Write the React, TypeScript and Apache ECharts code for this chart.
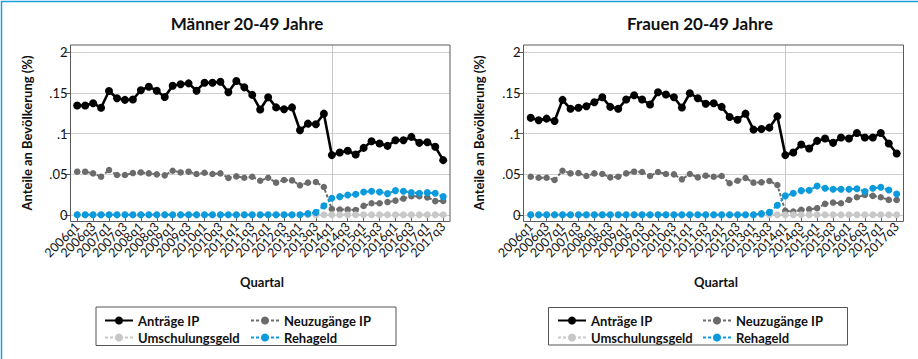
import React, { useEffect, useRef } from "react";
import * as echarts from "echarts";

const quarters = [
  "2006q1", "2006q2", "2006q3", "2006q4", "2007q1", "2007q2", "2007q3", "2007q4",
  "2008q1", "2008q2", "2008q3", "2008q4", "2009q1", "2009q2", "2009q3", "2009q4",
  "2010q1", "2010q2", "2010q3", "2010q4", "2011q1", "2011q2", "2011q3", "2011q4",
  "2012q1", "2012q2", "2012q3", "2012q4", "2013q1", "2013q2", "2013q3", "2013q4",
  "2014q1", "2014q2", "2014q3", "2014q4", "2015q1", "2015q2", "2015q3", "2015q4",
  "2016q1", "2016q2", "2016q3", "2016q4", "2017q1", "2017q2", "2017q3",
];
const xTickLabels = [
  "2006q1", "2006q3", "2007q1", "2007q3", "2008q1", "2008q3", "2009q1", "2009q3",
  "2010q1", "2010q3", "2011q1", "2011q3", "2012q1", "2012q3", "2013q1", "2013q3",
  "2014q1", "2014q3", "2015q1", "2015q3", "2016q1", "2016q3", "2017q1", "2017q3",
];
const refLineQuarter = "2014q1";
const yTickValues = [0, 0.05, 0.1, 0.15, 0.2];
const yTickLabels = ["0", ".05", ".1", ".15", "2"];

const seriesNames = ["Anträge IP", "Neuzugänge IP", "Umschulungsgeld", "Rehageld"];

// Männer 20-49 Jahre
const menAntraege = [
  0.1346, 0.1346, 0.1374, 0.1317, 0.1524, 0.1435, 0.1415, 0.1419, 0.1533, 0.1577, 0.1528, 0.1451,
  0.1589, 0.1606, 0.1618, 0.1528, 0.1626, 0.1626, 0.1638, 0.1508, 0.1646, 0.1569, 0.1476, 0.1297,
  0.1447, 0.1322, 0.1300, 0.1322, 0.1041, 0.1122, 0.1114, 0.1245, 0.0735, 0.0767, 0.0788, 0.0743,
  0.0824, 0.0906, 0.0878, 0.0849, 0.0918, 0.0918, 0.0959, 0.0886, 0.0894, 0.0837, 0.0673,
];
const menNeuzugaenge = [
  0.0531, 0.0531, 0.0510, 0.0469, 0.0551, 0.0490, 0.0490, 0.0514, 0.0522, 0.0510, 0.0498, 0.0486,
  0.0543, 0.0522, 0.0531, 0.0502, 0.0518, 0.0502, 0.0510, 0.0453, 0.0473, 0.0457, 0.0469, 0.0420,
  0.0457, 0.0396, 0.0429, 0.0424, 0.0363, 0.0396, 0.0404, 0.0342, 0.0072, 0.0066, 0.0064, 0.0060,
  0.0110, 0.0142, 0.0143, 0.0157, 0.0175, 0.0200, 0.0230, 0.0228, 0.0215, 0.0169, 0.0170,
];
const menUmschulung = [
  0, 0, 0, 0, 0, 0, 0, 0, 0, 0, 0, 0, 0, 0, 0, 0, 0, 0, 0, 0, 0, 0, 0, 0,
  0, 0, 0, 0, 0, 0, 0, 0, 0, 0, 0, 0, 0, 0, 0, 0, 0, 0, 0, 0, 0, 0, 0,
];
const menReha = [
  0, 0, 0, 0, 0, 0, 0, 0, 0, 0, 0, 0, 0, 0, 0, 0, 0, 0, 0, 0, 0, 0, 0, 0,
  0, 0, 0, 0, 0, 0.0015, 0.003, 0.011, 0.0204, 0.0224, 0.0245, 0.0253, 0.0282, 0.0290, 0.0282, 0.0261,
  0.0298, 0.0290, 0.0273, 0.0265, 0.0273, 0.0265, 0.0224,
];

// Frauen 20-49 Jahre
const womenAntraege = [
  0.1195, 0.1163, 0.1184, 0.1155, 0.1415, 0.1305, 0.1317, 0.1337, 0.1386, 0.1447, 0.1329, 0.1305,
  0.1419, 0.1472, 0.1419, 0.1358, 0.1508, 0.1480, 0.1447, 0.1321, 0.1496, 0.1435, 0.1366, 0.1374,
  0.1329, 0.1204, 0.1171, 0.1245, 0.1049, 0.1057, 0.1073, 0.1212, 0.0735, 0.0767, 0.0865, 0.0816,
  0.0910, 0.0939, 0.0886, 0.0951, 0.0939, 0.1008, 0.0951, 0.0951, 0.1008, 0.0878, 0.0755,
];
const womenNeuzugaenge = [
  0.0469, 0.0457, 0.0457, 0.0429, 0.0543, 0.0510, 0.0514, 0.0478, 0.0510, 0.0502, 0.0461, 0.0469,
  0.0510, 0.0531, 0.0527, 0.0478, 0.0527, 0.0502, 0.0498, 0.0437, 0.0502, 0.0461, 0.0482, 0.0469,
  0.0478, 0.0388, 0.0420, 0.0453, 0.0396, 0.0400, 0.0416, 0.0367, 0.0049, 0.0041, 0.0061, 0.0069,
  0.0082, 0.0135, 0.0151, 0.0143, 0.0184, 0.0216, 0.0245, 0.0233, 0.0216, 0.0184, 0.0184,
];
const womenUmschulung = [
  0, 0, 0, 0, 0, 0, 0, 0, 0, 0, 0, 0, 0, 0, 0, 0, 0, 0, 0, 0, 0, 0, 0, 0,
  0, 0, 0, 0, 0, 0, 0, 0, 0, 0, 0, 0, 0, 0, 0, 0, 0, 0, 0, 0, 0, 0, 0,
];
const womenReha = [
  0, 0, 0, 0, 0, 0, 0, 0, 0, 0, 0, 0, 0, 0, 0, 0, 0, 0, 0, 0, 0, 0, 0, 0,
  0, 0, 0, 0, 0, 0.0015, 0.003, 0.0118, 0.0233, 0.0265, 0.0298, 0.0302, 0.0355, 0.0327, 0.0314, 0.0314,
  0.0314, 0.0322, 0.0286, 0.0327, 0.0339, 0.0306, 0.0257,
];

const FONT = "Lato, 'Noto Sans', sans-serif";
const colors = ["#000000", "#6b6b6b", "#c8c8c8", "#0b9bdc"];
const Y_MIN = -0.0082;
const Y_MAX = 0.209;

export default function App() {
  const ref = useRef<HTMLDivElement>(null);

  useEffect(() => {
    document.body.style.margin = "0";
    if (!ref.current) return;
    const chart = echarts.init(ref.current, undefined, { renderer: "svg" });

    const frames = [
      { left: 70.5, top: 45, width: 379.5, height: 176.5, dataLeft: 77.2, dataWidth: 366 },
      { left: 523.5, top: 45, width: 380, height: 176.5, dataLeft: 530.7, dataWidth: 366 },
    ];
    const panels = [
      [menAntraege, menNeuzugaenge, menUmschulung, menReha],
      [womenAntraege, womenNeuzugaenge, womenUmschulung, womenReha],
    ];

    const grid: any[] = [
      ...frames.map((f) => ({ left: f.left, top: f.top, width: f.width, height: f.height })),
      ...frames.map((f) => ({ left: f.dataLeft, top: f.top, width: f.dataWidth, height: f.height })),
    ];

    const xAxis: any[] = [
      ...frames.map((f, gi) => ({ type: "value", gridIndex: gi, show: false, min: 0, max: 1 })),
      ...frames.map((f, gi) => ({
        type: "category",
        gridIndex: gi + 2,
        data: quarters,
        boundaryGap: false,
        axisLine: { show: false },
        splitLine: { show: false },
        axisTick: {
          show: true,
          interval: (i: number, v: string) => xTickLabels.includes(v),
          length: 6,
          lineStyle: { color: "#555" },
        },
        axisLabel: {
          interval: 0,
          rotate: 45,
          margin: 3,
          fontSize: 12.5,
          color: "#111",
          fontFamily: FONT,
          hideOverlap: false,
          formatter: (v: string) => (xTickLabels.includes(v) ? v : ""),
        },
      })),
    ];

    const yAxis: any[] = [
      ...frames.map((f, gi) => ({
        type: "value",
        gridIndex: gi,
        min: Y_MIN,
        max: Y_MAX,
        minInterval: 0.05,
        maxInterval: 0.05,
        axisLine: { show: false },
        axisTick: { show: true, customValues: yTickValues, length: 6, lineStyle: { color: "#555" } },
        axisLabel: {
          customValues: yTickValues,
          margin: 3,
          fontSize: 13,
          color: "#111",
          fontFamily: FONT,
          formatter: (v: number) => yTickLabels[Math.round(v / 0.05)] ?? "",
        },
        splitLine: { show: true, lineStyle: { color: "#cfcfcf", width: 1 } },
      })),
      ...frames.map((f, gi) => ({
        type: "value",
        gridIndex: gi + 2,
        min: Y_MIN,
        max: Y_MAX,
        show: false,
        splitLine: { show: false },
      })),
    ];

    const series: any[] = [];
    panels.forEach((vals, gi) => {
      vals.forEach((arr, si) => {
        const s: any = {
          type: "line",
          name: seriesNames[si],
          xAxisIndex: gi + 2,
          yAxisIndex: gi + 2,
          data: arr,
          symbol: "circle",
          symbolSize: si === 0 ? 8 : si === 1 ? 6.5 : 7,
          showSymbol: true,
          showAllSymbol: true,
          color: colors[si],
          itemStyle: { color: colors[si] },
          lineStyle: si === 0
            ? { color: colors[si], width: 2.6, type: "solid" }
            : { color: colors[si], width: 2, type: [3, 2] },
          z: 2 + si,
        };
        if (si === 0) {
          s.markLine = {
            silent: true,
            symbol: "none",
            z: 1,
            label: { show: false },
            lineStyle: { color: "#c8c8c8", type: "solid", width: 1 },
            data: [{ xAxis: refLineQuarter }],
          };
        }
        series.push(s);
      });
    });

    const legendText = { fontSize: 13, fontWeight: "bold", color: "#111", fontFamily: FONT };
    const legendBase = {
      orient: "vertical",
      top: 314,
      itemWidth: 28,
      itemHeight: 10,
      itemGap: 4,
      padding: 0,
      selectedMode: false,
      textStyle: legendText,
    };
    const legend = [
      { ...legendBase, left: 104, data: ["Anträge IP", "Umschulungsgeld"] },
      { ...legendBase, left: 250, data: ["Neuzugänge IP", "Rehageld"] },
      { ...legendBase, left: 557, data: ["Anträge IP", "Umschulungsgeld"] },
      { ...legendBase, left: 702, data: ["Neuzugänge IP", "Rehageld"] },
    ];

    const titleStyle = { fontSize: 17, fontWeight: 700, fill: "#111", fontFamily: FONT, textAlign: "center", textVerticalAlign: "middle" };
    const axisNameStyle = { fontSize: 13, fontWeight: 700, fill: "#111", fontFamily: FONT, textAlign: "center", textVerticalAlign: "middle" };

    const graphic: any[] = [
      { type: "polyline", shape: { points: [[1.5, 359], [1.5, 1.5], [918, 1.5]] }, style: { fill: "none", stroke: "#1a9fdc", lineWidth: 1.5 }, silent: true },
      { type: "text", x: 247, y: 23, style: { text: "Männer 20-49 Jahre", ...titleStyle } },
      { type: "text", x: 700, y: 23, style: { text: "Frauen 20-49 Jahre", ...titleStyle } },
      { type: "text", x: 26.5, y: 133, rotation: Math.PI / 2, style: { text: "Anteile an Bevölkerung (%)", ...axisNameStyle } },
      { type: "text", x: 478.5, y: 133, rotation: Math.PI / 2, style: { text: "Anteile an Bevölkerung (%)", ...axisNameStyle } },
      { type: "text", x: 262, y: 282, style: { text: "Quartal", ...axisNameStyle } },
      { type: "text", x: 716, y: 282, style: { text: "Quartal", ...axisNameStyle } },
      { type: "rect", z: 100, shape: { x: 96, y: 307, width: 300, height: 38.5 }, style: { fill: "none", stroke: "#555", lineWidth: 1 }, silent: true },
      { type: "rect", z: 100, shape: { x: 548.5, y: 307.5, width: 299, height: 37.5 }, style: { fill: "none", stroke: "#555", lineWidth: 1 }, silent: true },
    ];
    frames.forEach((f) => {
      graphic.push({
        type: "rect",
        z: 100,
        shape: { x: f.left, y: f.top, width: f.width, height: f.height },
        style: { fill: "none", stroke: "#5a5a5a", lineWidth: 1 },
        silent: true,
      });
    });

    chart.setOption({
      animation: false,
      backgroundColor: "#ffffff",
      textStyle: { fontFamily: FONT },
      grid,
      xAxis,
      yAxis,
      legend,
      series,
      graphic,
    } as any);

    return () => chart.dispose();
  }, []);

  return <div ref={ref} style={{ width: 918, height: 359 }} />;
}
